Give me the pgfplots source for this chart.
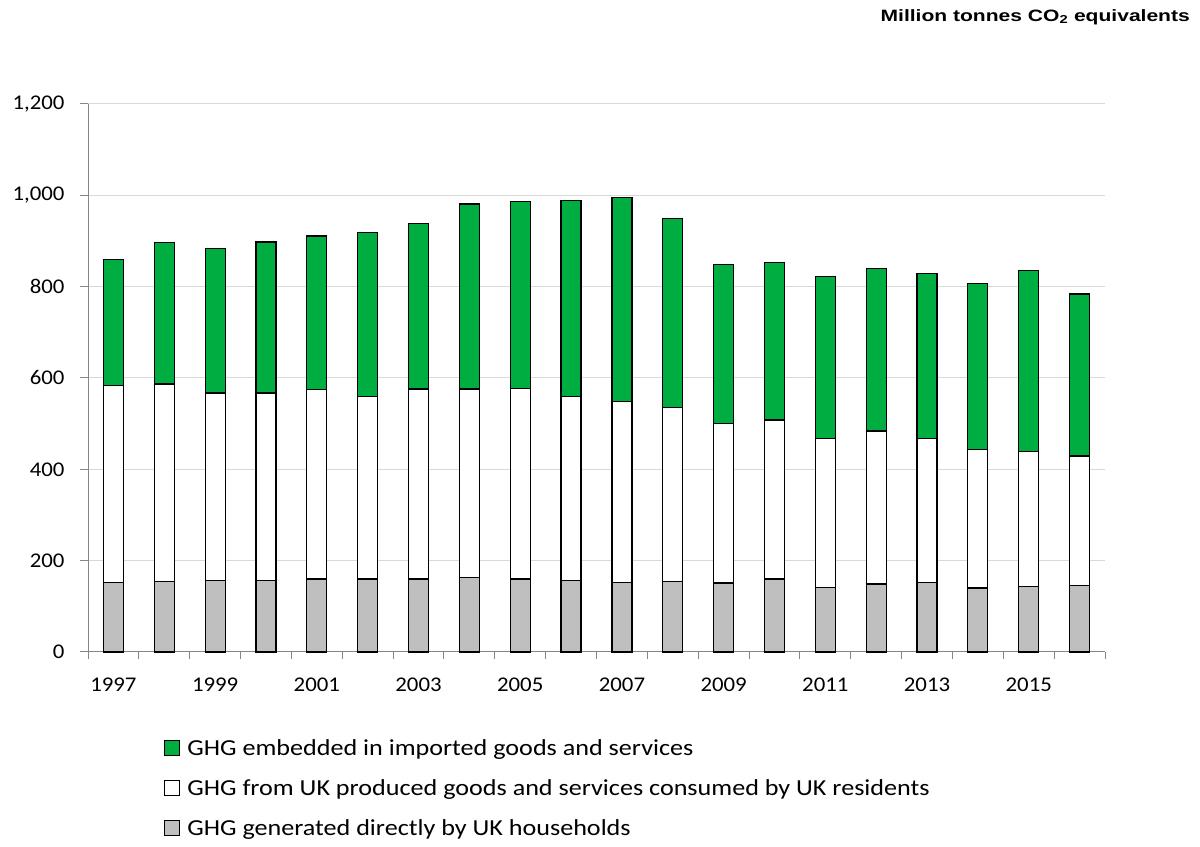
\documentclass[border=0pt]{standalone}
\usepackage{fontspec}
\setmainfont{Carlito}[FakeStretch=1.09]
\newfontfamily\legfont{Carlito}[FakeStretch=1.14]
\newfontfamily\arialfont{Liberation Sans}[FakeStretch=1.28]
\usepackage{pgfplots}
\pgfplotsset{compat=1.18}
\usepackage{pgfplotstable}
\definecolor{ggreen}{RGB}{0,173,65}
\definecolor{ggray}{RGB}{191,191,191}
\definecolor{axgray}{RGB}{134,134,134}
\definecolor{gridgray}{RGB}{217,217,217}

\pgfplotstableread{
x year house ukprod imported
0 1997 153 431 276
1 1998 155 432 310
2 1999 156 411 316
3 2000 156 411 331
4 2001 160 415 336
5 2002 160 400 359
6 2003 160 416 363
7 2004 163 413 405
8 2005 160 417 410
9 2006 157 403 429
10 2007 153 396 447
11 2008 154 382 414
12 2009 151 349 349
13 2010 160 348 345
14 2011 141 327 354
15 2012 149 335 355
16 2013 152 315 362
17 2014 140 304 363
18 2015 143 296 397
19 2016 146 283 355
}\datatable

\pgfplotsset{sqleg/.style={legend image code/.code={\draw[##1,line width=1.2bp] (0bp,-6bp) rectangle (15bp,9bp);}}}

\begin{document}
\begin{tikzpicture}[x=1bp,y=1bp]
\useasboundingbox (0,0) rectangle (1200,847);
\node[anchor=north east,inner sep=0pt,font=\arialfont\bfseries\fontsize{16.5}{20}\selectfont] at (1190,838) {Million tonnes CO\textsubscript{2} equivalents};
\begin{axis}[
  at={(88bp,195bp)}, anchor=south west,
  scale only axis, width=1017bp, height=548bp,
  ybar stacked, bar width=20bp,
  xmin=-0.5, xmax=19.5, ymin=0, ymax=1200,
  xtick={0,...,19},
  xticklabels={1997,,1999,,2001,,2003,,2005,,2007,,2009,,2011,,2013,,2015,},
  minor xtick={-0.5,0.5,...,19.5},
  major x tick style={draw=none},
  ytick={0,200,...,1200},
  axis x line*=bottom, axis y line*=left,
  axis line style={axgray, line width=1bp},
  tick style={axgray, line width=1bp},
  tick align=outside,
  major tick length=8bp, minor tick length=7bp,
  ymajorgrids, grid style={gridgray, line width=1bp},
  /pgf/number format/assume math mode=true,
  /pgf/number format/1000 sep={,},
  tick label style={font=\fontsize{21}{24}\selectfont, black},
  xticklabel style={yshift=-14bp},
  yticklabel style={xshift=-12bp},
  legend style={at={(0.0747,-0.159)}, anchor=north west, draw=none, fill=none,
    font=\legfont\fontsize{23}{26}\selectfont, row sep=19bp, inner sep=0pt,
    nodes={inner sep=0pt, text height=16bp, text depth=5bp},
    /tikz/every odd column/.append style={column sep=7bp}},
  legend cell align=left,
  reverse legend,
  clip=false,
]
\addplot[fill=ggray, draw=black, line width=1.2bp, sqleg] table[x=x,y=house] {\datatable};
\addplot[fill=white, draw=black, line width=1.2bp, sqleg] table[x=x,y=ukprod] {\datatable};
\addplot[fill=ggreen, draw=black, line width=1.2bp, sqleg] table[x=x,y=imported] {\datatable};
\legend{GHG generated directly by UK households, GHG from UK produced goods and services consumed by UK residents, GHG embedded in imported goods and services}
\end{axis}
\end{tikzpicture}
\end{document}
